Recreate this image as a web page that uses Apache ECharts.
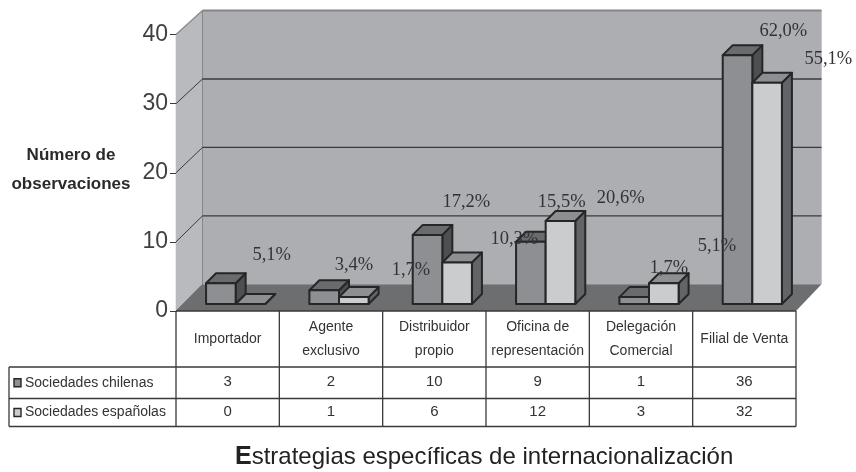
<!DOCTYPE html>
<html><head><meta charset="utf-8">
<style>html,body{margin:0;padding:0;background:#fff}#c{width:856px;height:472px}</style>
<script src="https://cdn.jsdelivr.net/npm/echarts@6/dist/echarts.min.js"></script>
</head><body><div id="c"></div>
<script>
const categories = ['Importador','Agente\nexclusivo','Distribuidor\npropio','Oficina de\nrepresentación','Delegación\nComercial','Filial de Venta'];
const chile = [3,2,10,9,1,36];
const spain = [0,1,6,12,3,32];
const chilePct = ['5,1%','3,4%','17,2%','15,5%','1,7%','62,0%'];
const spainPct = [null,'1,7%','10,3%','20,6%','5,1%','55,1%'];
const yTicks = [0,10,20,30,40];
const chileName = 'Sociedades chilenas';
const spainName = 'Sociedades españolas';

// label displacement from the bar's value point, as hand-placed in the source
const chileOff = [[44,-35],[23,-32],[32,-40],[24,-47],[28,-36],[39,-31]];
const spainOff = [[0,0],[80,-34],[80,-30],[83,-30],[76,-44],[84,-31]];

const WALL_DX = 25.5, WALL_DY = 26.7, BACK_SCALE = 0.99;
const BAR_W = 29.6, BAR_SHIFT = 8, FLOOR_LIFT = 7, BAR_DEPTH = 10;
const INK = '#262628';
const ROW_TOP = 367, ROW_MID = 398.5, ROW_BOT = 426.5, TABLE_LEFT = 9;
const SERIF = '"Liberation Serif", serif', SANS = '"Liberation Sans", Arial, sans-serif';

function poly(points, fill, stroke, lw){
  return {type:'polygon', shape:{points}, style:{fill, stroke:stroke||null, lineWidth:lw||0, lineJoin:'round'}};
}
function line(x1,y1,x2,y2,stroke,lw){
  return {type:'line', shape:{x1,y1,x2,y2}, style:{stroke, lineWidth:lw}};
}
function text(str,x,y,font,fill,align){
  return {type:'text', style:{text:str,x,y,font,fill,align:align||'center',verticalAlign:'middle'}};
}

function renderWalls(params, api){
  const bl = api.coord([0,0]), tl = api.coord([0,40]);
  const cs = params.coordSys;
  const L = cs.x, R = cs.x + cs.width, B = bl[1], T = tl[1];
  const by = y => B - WALL_DY - (B - y) * BACK_SCALE;
  const kids = [
    poly([[L,T],[L+WALL_DX+1,by(T)],[L+WALL_DX+1,by(B)],[L,B]],'#b9babe'),
    poly([[L+WALL_DX+1,by(T)],[R+WALL_DX,by(T)],[R+WALL_DX,by(B)],[L+WALL_DX+1,by(B)]],'#adaeb2'),
    poly([[L,B],[R,B],[R+WALL_DX,by(B)],[L+WALL_DX+1,by(B)]],'#6d6e70'),
    line(L+WALL_DX+1,by(T),L+WALL_DX+1,by(B),'#85868a',1),
    line(R+WALL_DX,by(T),R+WALL_DX,by(B),'#c4c5c8',1)
  ];
  yTicks.forEach(v=>{
    const y = api.coord([0,v])[1];
    if(v===40){
      kids.push(line(L+WALL_DX+1,by(y),R+WALL_DX,by(y),'#85868a',2));
      kids.push(line(L,y,L+WALL_DX+1,by(y),'#85868a',1.2));
      return;
    }
    if(v>0) kids.push(line(L+WALL_DX+1,by(y),R+WALL_DX,by(y),'#3a3a3c',1.3));
    kids.push(line(L,y,L+WALL_DX+1,by(y),v===0?'#6d6e70':'#3a3a3c',1));
  });
  return {type:'group',children:kids};
}

function barRenderer(side, front, top, dark){
  return function(params, api){
    const c = api.value(0), v = api.value(1);
    const base = api.coord([c,0]), tip = api.coord([c,v]);
    const x0 = base[0] + BAR_SHIFT + (side<0 ? -BAR_W : 0), x1 = x0 + BAR_W;
    const y0 = base[1] - FLOOR_LIFT, y1 = tip[1] - FLOOR_LIFT, d = BAR_DEPTH;
    return {type:'group',children:[
      poly([[x1,y1],[x1+d,y1-d],[x1+d,y0-d],[x1,y0]],dark,INK,2),
      poly([[x0,y1],[x0+d,y1-d],[x1+d,y1-d],[x1,y1]],top,INK,2),
      poly([[x0,y1],[x1,y1],[x1,y0],[x0,y0]],front,INK,2)
    ]};
  };
}

function pctRenderer(pct, off){
  return function(params, api){
    const c = api.value(0), v = api.value(1);
    if(!pct[c]) return {type:'group',children:[]};
    const p = api.coord([c,v]);
    return text(pct[c], p[0]+off[c][0], p[1]+off[c][1], '18.5px '+SERIF, '#333336');
  };
}

function renderTable(params, api){
  const cs = params.coordSys, L = cs.x, R = cs.x + cs.width, B = cs.y + cs.height;
  const band = cs.width / categories.length;
  const kids = [];
  const lc = '#39393b';
  kids.push(line(L,B,L,ROW_BOT,lc,1.3), line(R,B,R,ROW_BOT,lc,1.3));
  kids.push(line(L,B,R,B,lc,1.3));
  kids.push(line(TABLE_LEFT,ROW_TOP,TABLE_LEFT,ROW_BOT,lc,1.3));
  kids.push(line(TABLE_LEFT,ROW_TOP,R,ROW_TOP,lc,1.3));
  kids.push(line(TABLE_LEFT,ROW_MID,R,ROW_MID,lc,1.3));
  kids.push(line(TABLE_LEFT,ROW_BOT,R,ROW_BOT,lc,1.3));
  categories.forEach((_,i)=>{
    const cx = api.coord([i,0])[0];
    if(i>0) kids.push(line(cx-band/2,B,cx-band/2,ROW_BOT,lc,1.3));
    kids.push(text(String(chile[i]),cx,(ROW_TOP+ROW_MID)/2-1,'15px '+SANS,'#333'));
    kids.push(text(String(spain[i]),cx,(ROW_MID+ROW_BOT)/2-1,'15px '+SANS,'#333'));
  });
  const rows = [[chileName,'#8e8f93',(ROW_TOP+ROW_MID)/2],[spainName,'#cbccce',(ROW_MID+ROW_BOT)/2]];
  rows.forEach(r=>{
    kids.push({type:'rect',shape:{x:TABLE_LEFT+5,y:r[2]-4,width:7,height:8},style:{fill:r[1],stroke:INK,lineWidth:1.4}});
    kids.push(text(r[0],TABLE_LEFT+16,r[2],'14px '+SANS,'#333','left'));
  });
  return {type:'group',children:kids};
}

const pairs = a => a.map((v,i)=>[i,v]);

const chart = echarts.init(document.getElementById('c'),null,{renderer:'canvas'});
chart.setOption({
  animation:false,
  backgroundColor:'#fff',
  title:[{
    left:235, top:445, padding:0,
    text:'{e|E}{r|strategias específicas de internacionalización}',
    textStyle:{fontWeight:'normal',rich:{
      e:{fontFamily:SANS,fontSize:25,fontWeight:'bold',color:'#222'},
      r:{fontFamily:SANS,fontSize:24,fontWeight:'normal',color:'#222'}
    }}
  },{
    left:71, top:140.5, padding:0, textAlign:'center',
    text:'Número de\nobservaciones',
    textStyle:{fontFamily:SANS,fontSize:17,fontWeight:'bold',color:'#2a2a2a',lineHeight:29}
  }],
  grid:{left:176,right:60,top:34.5,height:276.5,containLabel:false,outerBoundsMode:'none'},
  xAxis:{
    type:'category',data:categories,
    axisLine:{show:false},axisTick:{show:false},splitLine:{show:false},
    axisLabel:{interval:0,margin:28,verticalAlign:'middle',lineHeight:24,fontFamily:SANS,fontSize:14,color:'#333'}
  },
  yAxis:{
    type:'value',min:0,max:40,interval:10,
    axisLine:{show:true,lineStyle:{color:'#3a3a3c',width:1.2}},
    axisTick:{show:true,length:6,lineStyle:{color:'#3a3a3c',width:1}},
    splitLine:{show:false},
    axisLabel:{margin:8,fontFamily:SANS,fontSize:23,color:'#404042'}
  },
  series:[
    {type:'custom',name:'walls',data:[[0,0]],z:1,silent:true,renderItem:renderWalls,clip:false},
    {type:'custom',name:chileName,data:pairs(chile),z:2,silent:true,clip:false,renderItem:barRenderer(-1,'#8e8f93','#6a6b6d','#4e4f51')},
    {type:'custom',name:spainName,data:pairs(spain),z:3,silent:true,clip:false,renderItem:barRenderer(1,'#cbccce','#8e8f92','#636467')},
    {type:'custom',name:'tabla',data:[[0,0]],z:4,silent:true,clip:false,renderItem:renderTable},
    {type:'custom',name:'pct chile',data:pairs(chile),z:5,silent:true,clip:false,renderItem:pctRenderer(chilePct,chileOff)},
    {type:'custom',name:'pct spain',data:pairs(spain),z:5,silent:true,clip:false,renderItem:pctRenderer(spainPct,spainOff)}
  ]
});
</script></body></html>
